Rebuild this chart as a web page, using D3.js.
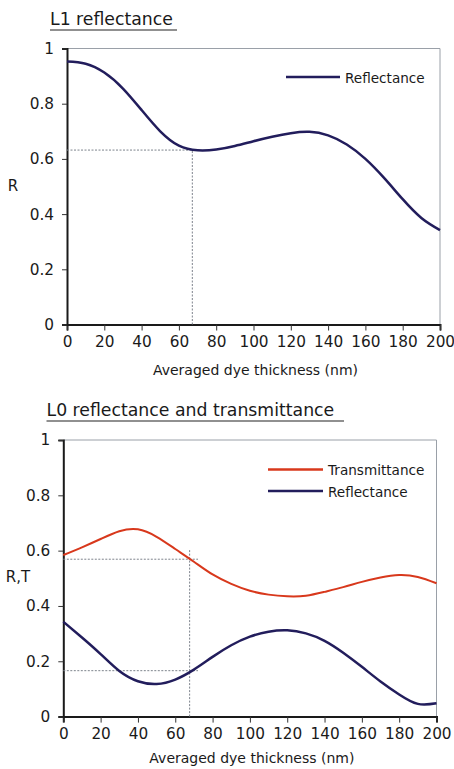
<!DOCTYPE html>
<html>
<head>
<meta charset="utf-8">
<script src="https://cdn.jsdelivr.net/npm/d3@7"></script>
<style>
  html, body { margin: 0; padding: 0; background: #ffffff; }
  svg { display: block; }
  text { font-family: "DejaVu Sans", Verdana, sans-serif; fill: #1a1a1a; }
</style>
</head>
<body>
<svg id="chart" width="454" height="769"></svg>
<script>
// ---- Data ----
const thickness = [0, 10, 20, 30, 40, 50, 60, 70, 80, 90, 100, 110, 120, 130, 140, 150, 160, 170, 180, 190, 200];
const l1Reflectance = [0.953, 0.945, 0.913, 0.855, 0.777, 0.700, 0.648, 0.631, 0.634, 0.647, 0.664, 0.680, 0.693, 0.698, 0.685, 0.652, 0.600, 0.531, 0.454, 0.386, 0.342];
const l0Transmittance = [0.584, 0.612, 0.642, 0.670, 0.677, 0.650, 0.606, 0.560, 0.514, 0.480, 0.455, 0.441, 0.435, 0.437, 0.451, 0.468, 0.487, 0.503, 0.512, 0.505, 0.482];
const l0Reflectance = [0.343, 0.286, 0.226, 0.165, 0.128, 0.118, 0.134, 0.170, 0.216, 0.258, 0.289, 0.307, 0.312, 0.301, 0.274, 0.231, 0.180, 0.127, 0.080, 0.046, 0.048];
const xTicks = [0, 20, 40, 60, 80, 100, 120, 140, 160, 180, 200];
const yTicks = [0, 0.2, 0.4, 0.6, 0.8, 1];
const yTickLabels = ["0", "0.2", "0.4", "0.6", "0.8", "1"];
// reference (guide) lines
const l1Guide = { x: 67.2, y: 0.632 };
const l0Guide = { x: 67.7, yTop: 0.605, xEnd: 72.2, t: 0.569, r: 0.166 };

const BLUE = "#221d5c";
const RED = "#d8381c";
const GUIDE = "#7d838c";

const svg = d3.select("#chart");

function drawPanel(opts) {
  const x = d3.scaleLinear().domain([0, 200]).range([opts.left, opts.right]);
  const y = d3.scaleLinear().domain([0, 1]).range([opts.bottom, opts.top]);
  const g = svg.append("g");

  // title with underline
  g.append("text").attr("x", opts.titleX).attr("y", opts.titleY)
    .attr("font-size", 17.3).text(opts.title);
  g.append("line").attr("x1", opts.titleX).attr("x2", opts.ulEnd)
    .attr("y1", opts.titleY + 5).attr("y2", opts.titleY + 5)
    .attr("stroke", "#6b6b6b").attr("stroke-width", 1.5);

  // top & right border
  g.append("path")
    .attr("d", `M${opts.left},${opts.top}H${opts.right}V${opts.bottom}`)
    .attr("fill", "none").attr("stroke", "#9aa0a8").attr("stroke-width", 1);

  // axes
  const xAxis = d3.axisBottom(x).tickValues(xTicks).tickSize(6).tickPadding(6).tickFormat(d3.format("d"));
  const gx = g.append("g").attr("transform", `translate(0,${opts.bottom})`).call(xAxis);
  gx.select(".domain").attr("stroke", "#1a1a1a").attr("stroke-width", 2);
  gx.selectAll(".tick line").attr("stroke", "#333").attr("stroke-width", 1);
  gx.selectAll(".tick text").attr("font-size", 15.3).attr("font-family", "DejaVu Sans").attr("fill", "#1a1a1a");

  const yAxis = d3.axisLeft(y).tickValues(yTicks).tickSize(5).tickPadding(8)
    .tickFormat((d, i) => yTickLabels[i]);
  const gy = g.append("g").attr("transform", `translate(${opts.left},0)`).call(yAxis);
  gy.select(".domain").attr("stroke", "#1a1a1a").attr("stroke-width", 2);
  gy.selectAll(".tick line").attr("stroke", "#333").attr("stroke-width", 1);
  gy.selectAll(".tick text").attr("font-size", 15.3).attr("font-family", "DejaVu Sans").attr("fill", "#1a1a1a");

  // axis titles
  g.append("text").attr("x", (opts.left + opts.right) / 2 + 2).attr("y", opts.xTitleY)
    .attr("text-anchor", "middle").attr("font-size", 14).text("Averaged dye thickness (nm)");
  g.append("text").attr("x", opts.yLabelX).attr("y", opts.yLabelY)
    .attr("text-anchor", "middle").attr("font-size", 15).text(opts.yLabel);

  return { g, x, y };
}

function addLine(p, values, color, width) {
  const line = d3.line()
    .x((d, i) => p.x(thickness[i]))
    .y(d => p.y(d))
    .curve(d3.curveNatural);
  p.g.append("path").datum(values).attr("d", line)
    .attr("fill", "none").attr("stroke", color).attr("stroke-width", width)
    .attr("stroke-linejoin", "round");
}

function guide(p, x1, y1, x2, y2) {
  p.g.append("line")
    .attr("x1", p.x(x1)).attr("y1", p.y(y1)).attr("x2", p.x(x2)).attr("y2", p.y(y2))
    .attr("stroke", GUIDE).attr("stroke-width", 1).attr("stroke-dasharray", "2,1.5");
}

function legendItem(p, lx1, lx2, ly, color, label) {
  p.g.append("line").attr("x1", lx1).attr("x2", lx2).attr("y1", ly).attr("y2", ly)
    .attr("stroke", color).attr("stroke-width", 2.5);
  p.g.append("text").attr("x", lx2 + 5).attr("y", ly + 5.5).attr("font-size", 13.6).text(label);
}

// ---- Panel 1: L1 reflectance ----
const p1 = drawPanel({
  left: 67, right: 440, top: 48.5, bottom: 324.5, xTitleY: 375,
  title: "L1 reflectance", titleX: 50, titleY: 25, ulEnd: 177,
  yLabel: "R", yLabelX: 13, yLabelY: 191
});
guide(p1, 0, l1Guide.y, l1Guide.x, l1Guide.y);
guide(p1, l1Guide.x, 0, l1Guide.x, l1Guide.y);
addLine(p1, l1Reflectance, BLUE, 2.5);
legendItem(p1, 286, 340, 77, BLUE, "Reflectance");

// ---- Panel 2: L0 reflectance and transmittance ----
const p2 = drawPanel({
  left: 63.3, right: 436.5, top: 440, bottom: 716.6, xTitleY: 763,
  title: "L0 reflectance and transmittance", titleX: 46.5, titleY: 416, ulEnd: 344,
  yLabel: "R,T", yLabelX: 18, yLabelY: 582
});
guide(p2, 0, l0Guide.t, l0Guide.xEnd, l0Guide.t);
guide(p2, 0, l0Guide.r, l0Guide.xEnd, l0Guide.r);
guide(p2, l0Guide.x, 0, l0Guide.x, l0Guide.yTop);
addLine(p2, l0Transmittance, RED, 2);
addLine(p2, l0Reflectance, BLUE, 2.5);
legendItem(p2, 268, 323, 469.5, RED, "Transmittance");
legendItem(p2, 268, 323, 491, BLUE, "Reflectance");
</script>
</body>
</html>
